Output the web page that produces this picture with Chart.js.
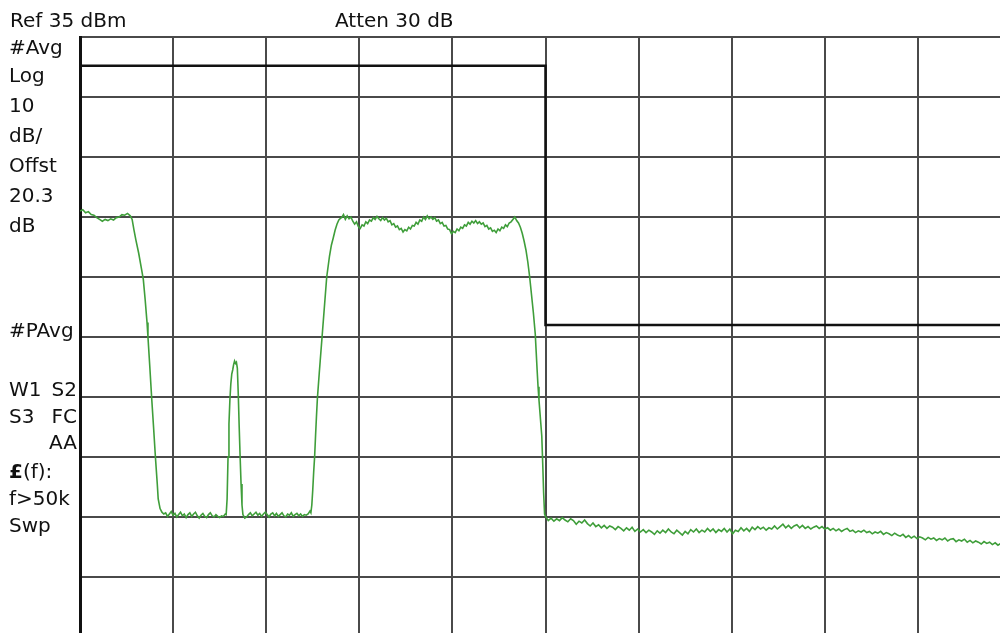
<!DOCTYPE html>
<html>
<head>
<meta charset="utf-8">
<script src="https://cdn.jsdelivr.net/npm/chart.js@4.4.1/dist/chart.umd.min.js"></script>
<style>
  html, body { margin: 0; padding: 0; background: #fff; overflow: hidden; }
  #wrap { position: absolute; left: 0; top: 0; width: 1016px; height: 640px; }
  .lbl { position: absolute; font-family: "DejaVu Sans", sans-serif; font-size: 20px; line-height: 20px; color: #111; white-space: nowrap; }
  .r { text-align: right; width: 77px; left: 0; }
</style>
</head>
<body>
<div id="wrap">
  <canvas id="sa" width="1016" height="640"></canvas>
</div>

<div class="lbl" style="left:10px; top:10px;">Ref 35 dBm</div>
<div class="lbl" style="left:335px; top:10px;">Atten 30 dB</div>

<div class="lbl" style="left:9px; top:37px;">#Avg</div>
<div class="lbl" style="left:9px; top:65px;">Log</div>
<div class="lbl" style="left:9px; top:95px;">10</div>
<div class="lbl" style="left:9px; top:125px;">dB/</div>
<div class="lbl" style="left:9px; top:155px;">Offst</div>
<div class="lbl" style="left:9px; top:185px;">20.3</div>
<div class="lbl" style="left:9px; top:215px;">dB</div>

<div class="lbl" style="left:9px; top:320px;">#PAvg</div>
<div class="lbl" style="left:9px; top:379px;">W1</div>
<div class="lbl r" style="top:379px;">S2</div>
<div class="lbl" style="left:9px; top:406px;">S3</div>
<div class="lbl r" style="top:406px;">FC</div>
<div class="lbl r" style="top:432px;">AA</div>
<div class="lbl" style="left:9px; top:461px;"><b>£</b>(f):</div>
<div class="lbl" style="left:9px; top:488px;">f&gt;50k</div>
<div class="lbl" style="left:9px; top:515px;">Swp</div>

<script>
// Analyzer settings
const refLevel = 35;      // dBm, top of graticule
const dbPerDiv = 10;
const numDivsY = 10;
const sweepPoints = 1000; // trace points across 10 divisions

// limit line (trace point, dBm)
const limitX = [0, 500, 500, 1000];
const limitDbm = [30.2, 30.2, -13, -13];

// measured trace: trace point index
const traceX = [
  0, 3, 6, 9, 12, 15, 18, 21, 24, 27, 30, 33, 36, 39, 42, 45, 48, 51, 54, 56,
  58, 60, 63, 66, 68, 70, 72, 73, 75, 77, 79, 81, 83, 84, 86, 88, 90,
  92, 94, 96, 98, 100, 102, 104, 106, 108, 110, 112, 114, 116, 118, 120, 122, 124, 126, 128,
  130, 132, 134, 136, 138, 140, 142, 144, 146, 148, 150, 152, 154, 156,
  157, 158, 159, 160, 161, 162, 163, 164, 165, 166, 167, 168, 169, 170, 171, 172, 173, 174, 175, 177,
  179, 181, 183, 185, 187, 189, 191, 193, 195, 197, 199, 201, 203, 205, 207, 209, 211, 213, 215,
  217, 219, 221, 223, 225, 227, 229, 231, 233, 235, 237, 239, 241, 243, 245, 247,
  248, 249, 250, 251, 252, 253, 254, 255, 257, 258, 260, 262, 265, 268, 270, 272, 274, 276, 278, 280,
  281, 283, 285, 287, 289, 291, 293, 295, 297, 299, 301, 303, 305, 307, 309, 311, 313, 315, 317, 319,
  321, 323, 325, 327, 329, 331, 333, 335, 337, 339, 341, 343, 345, 347, 349, 351, 353, 355, 357, 359,
  361, 363, 365, 367, 369, 371, 373, 375, 377, 379, 381, 383, 385, 387, 389, 391, 393, 395, 397, 399,
  401, 403, 405, 407, 409, 411, 413, 415, 417, 419, 421, 423, 425, 427, 429, 431, 433, 435, 437, 439,
  441, 443, 445, 447, 449, 451, 453, 455, 457, 459, 461, 463, 465, 467, 469, 471, 473, 475, 477, 479,
  481, 483, 485, 487, 489, 490, 491, 492, 493, 494, 495, 496, 497, 498, 499, 500,
  503, 506, 509, 512, 515, 518, 521, 524, 527, 530, 533, 536, 539, 542, 545, 548, 551, 554, 557, 560,
  563, 566, 569, 572, 575, 578, 581, 584, 587, 590, 593, 596, 599, 602, 605, 608, 611, 614, 617, 620,
  623, 626, 629, 632, 635, 638, 641, 644, 647, 650, 653, 656, 659, 662, 665, 668, 671, 674, 677, 680,
  683, 686, 689, 692, 695, 698, 701, 704, 707, 710, 713, 716, 719, 722, 725, 728, 731, 734, 737, 740,
  743, 746, 749, 752, 755, 758, 761, 764, 767, 770, 773, 776, 779, 782, 785, 788, 791, 794, 797, 800,
  803, 806, 809, 812, 815, 818, 821, 824, 827, 830, 833, 836, 839, 842, 845, 848, 851, 854, 857, 860,
  863, 866, 869, 872, 875, 878, 881, 884, 887, 890, 893, 896, 899, 902, 905, 908, 911, 914, 917, 920,
  923, 926, 929, 932, 935, 938, 941, 944, 947, 950, 953, 956, 959, 962, 965, 968, 971, 974, 977, 980,
  983, 986, 989, 992, 995, 998, 1000
];

// measured trace: level in dBm
const traceDbm = [
  6.0, 6.2, 5.7, 5.9, 5.4, 5.3, 4.9, 4.6, 4.3, 4.6, 4.4, 4.7, 4.5, 4.9, 5.0, 5.4, 5.3, 5.6, 5.2, 4.6,
  2.8, 1.2, -1.0, -3.6, -5.4, -8.8, -12.6, -15.0, -20.0, -25.2, -30.0, -35.0, -39.5, -42.0, -43.6, -44.2, -44.5,
  -44.3, -44.9, -44.5, -44.1, -44.7, -44.4, -45.0, -44.6, -44.2, -44.8, -44.5, -45.1, -44.6, -44.3, -44.9, -44.5, -44.2, -44.8, -45.2,
  -44.7, -44.4, -44.9, -45.1, -44.6, -44.3, -44.8, -45.0, -44.6, -44.9, -45.1, -44.8, -44.9, -44.5,
  -44.6, -42.0, -35.0, -29.5, -25.5, -22.8, -21.2, -20.5, -19.6, -19.0, -19.4, -19.2, -20.2, -24.5, -30.0, -35.0, -39.5, -43.0, -44.6, -45.2,
  -45.0, -44.6, -44.3, -44.8, -44.5, -44.2, -44.7, -44.4, -44.9, -44.5, -44.2, -44.6, -45.0, -44.5, -44.3, -44.8, -44.4, -44.9, -44.6,
  -44.3, -44.8, -45.0, -44.5, -44.7, -44.3, -44.9, -44.6, -44.4, -44.8, -44.5, -44.9, -44.6, -44.7, -44.5, -44.0,
  -44.3, -43.0, -40.5, -37.5, -35.0, -31.5, -28.2, -25.2, -21.0, -19.0, -15.0, -11.0, -5.0, -1.5, 0.3, 1.5, 2.8, 3.8, 4.5, 4.8,
  4.9, 5.4, 4.6, 5.2, 4.7, 5.0, 4.3, 3.8, 4.2, 3.4, 3.1, 3.7, 3.5, 4.2, 3.9, 4.5, 4.3, 4.9, 4.6, 5.1,
  4.7, 4.4, 4.9, 4.5, 4.8, 4.2, 4.4, 3.7, 3.9, 3.3, 3.5, 2.9, 3.1, 2.5, 2.9, 2.7, 3.3, 3.0, 3.6, 3.5,
  4.1, 3.8, 4.5, 4.3, 5.0, 4.6, 5.2, 4.7, 5.0, 4.6, 4.9, 4.3, 4.5, 3.9, 4.1, 3.5, 3.6, 3.0, 2.9, 2.2,
  2.6, 2.4, 3.0, 2.7, 3.3, 3.1, 3.7, 3.5, 4.1, 3.8, 4.3, 4.0, 4.4, 3.9, 4.2, 3.8, 4.0, 3.4, 3.6, 3.0,
  3.2, 2.6, 2.8, 2.4, 3.0, 2.7, 3.3, 3.1, 3.7, 3.4, 4.0, 4.2, 4.6, 5.0, 4.4, 4.0, 3.3, 2.3, 1.0, -0.5,
  -2.5, -5.0, -8.0, -11.0, -14.5, -17.5, -20.5, -23.3, -25.5, -27.5, -29.5, -31.5, -36.0, -41.0, -44.5, -44.9,
  -45.6, -45.2, -45.7, -45.3, -45.6, -45.1, -45.5, -45.8, -45.3, -45.6, -46.2, -45.7, -46.0, -45.5, -46.1, -46.5, -46.0, -46.6, -46.3, -46.8,
  -46.4, -46.9, -46.5, -46.7, -47.1, -46.6, -46.9, -47.3, -46.8, -47.2, -46.7, -47.4, -47.0, -47.5, -47.1, -47.6, -47.2, -47.5, -47.9, -47.3,
  -47.7, -47.2, -47.6, -47.0, -47.5, -47.8, -47.2, -47.6, -48.0, -47.4, -47.8, -47.1, -47.5, -47.0, -47.6, -47.2, -47.5, -46.9, -47.4, -47.0,
  -47.6, -47.1, -47.4, -46.9, -47.5, -47.0, -47.8, -47.2, -47.4, -46.8, -47.3, -46.9, -47.4, -46.7, -47.1, -46.6, -47.0, -46.7, -47.2, -46.8,
  -47.0, -46.5, -47.0, -46.6, -46.2, -46.8, -46.4, -46.9, -46.5, -46.3, -46.8, -46.4, -46.9, -46.6, -47.0, -46.7, -46.5, -46.9, -46.6, -47.0,
  -46.8, -47.2, -46.9, -47.3, -47.0, -47.4, -47.1, -46.9, -47.4, -47.2, -47.6, -47.3, -47.5, -47.2, -47.6, -47.4, -47.8, -47.5, -47.7, -47.4,
  -47.9, -47.6, -47.8, -48.1, -47.7, -48.0, -48.2, -47.9, -48.4, -48.1, -48.5, -48.2, -48.6, -48.3, -48.5, -48.8, -48.4, -48.7, -48.5, -48.9,
  -48.6, -48.8, -48.5, -49.0, -48.7, -48.6, -49.1, -48.8, -49.0, -48.7, -49.2, -48.9, -49.3, -49.0, -49.2, -49.5, -49.1, -49.4, -49.2, -49.6,
  -49.3, -49.7, -49.4, -49.6, -49.9, -49.5, -49.8
];

const toPoints = (xs, ys) => xs.map((x, i) => ({ x: x, y: ys[i] }));

const gridTicksX = [];
for (let i = 0; i <= 10; i++) gridTicksX.push({ value: i * sweepPoints / 10 });
const gridTicksY = [];
for (let i = 0; i <= numDivsY; i++) gridTicksY.push({ value: refLevel - i * dbPerDiv });

new Chart(document.getElementById('sa'), {
    type: 'scatter',
    data: {
        datasets: [
            {
                label: 'Limit',
                data: toPoints(limitX, limitDbm),
                showLine: true,
                borderColor: '#111',
                borderWidth: 2.5,
                pointRadius: 0,
                tension: 0
            },
            {
                label: 'Trace',
                data: toPoints(traceX, traceDbm),
                showLine: true,
                borderColor: '#3f9e3a',
                borderWidth: 1.6,
                pointRadius: 0,
                tension: 0
            }
        ]
    },
    options: {
        responsive: false,
        animation: false,
        layout: { padding: { left: 80, top: 37, right: 5, bottom: 3 } },
        plugins: {
            legend: { display: false },
            tooltip: { enabled: false }
        },
        scales: {
            x: {
                type: 'linear',
                min: 0,
                max: sweepPoints,
                afterBuildTicks: (s) => { s.ticks = gridTicksX; },
                ticks: { display: false },
                grid: { color: '#4a4a4a', lineWidth: 2, drawTicks: false },
                border: { display: false }
            },
            y: {
                type: 'linear',
                min: refLevel - numDivsY * dbPerDiv,
                max: refLevel,
                afterBuildTicks: (s) => { s.ticks = gridTicksY; },
                ticks: { display: false },
                grid: { color: '#4a4a4a', lineWidth: 2, drawTicks: false },
                border: { display: true, color: '#111', width: 3 }
            }
        }
    }
});
</script>
</body>
</html>
